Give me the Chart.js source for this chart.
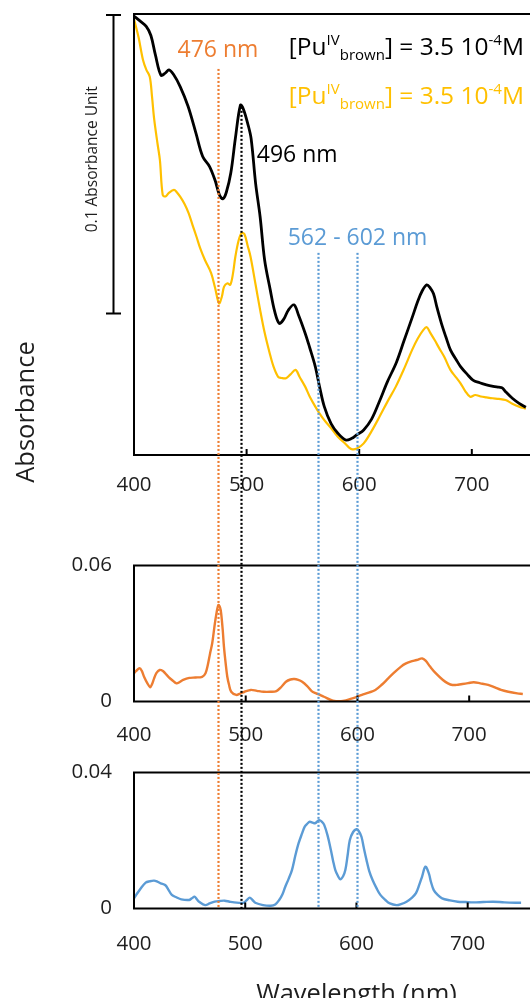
<!DOCTYPE html>
<html>
<head>
<meta charset="utf-8">
<script src="https://cdn.jsdelivr.net/npm/chart.js@4.4.1/dist/chart.umd.min.js"></script>
<style>
html,body{margin:0;padding:0;background:#fff;overflow:hidden;}
body{width:530px;height:998px;position:relative;}
canvas{position:absolute;left:0;}
</style>
</head>
<body>
<canvas id="cA" width="620" height="510" style="top:0;width:620px;height:510px"></canvas>
<canvas id="cB" width="620" height="250" style="top:510px;width:620px;height:250px"></canvas>
<canvas id="cC" width="620" height="254" style="top:760px;width:620px;height:254px"></canvas>
<canvas id="ov" width="620" height="1014" style="top:0;width:620px;height:1014px;pointer-events:none"></canvas>
<script>
// ---------- DATA ----------
const xTicks = [400, 500, 600, 700, 800];

// Top panel: black spectrum
const wlBlack = [400,405,411,415,419,424,428,431,435,441,448,455,461,467,472,476,479,482,486,490,494.5,497,501,504,508,512,516,521,525,529,533,537,542,546,552,556,561,565,569,575,581,588,593,598,604,611,618,625,633,640,647,652,656,660,663,666,669,673,677,681,686,690,696,701,707,713,719,724,727,730,736,742,748];
const absBlack = [0.1470,0.1455,0.1435,0.1405,0.1340,0.1272,0.1280,0.1290,0.1275,0.1234,0.1168,0.1078,0.1000,0.0967,0.0920,0.0870,0.0858,0.0880,0.0945,0.1060,0.1172,0.1160,0.1110,0.1060,0.0910,0.0798,0.0653,0.0553,0.0480,0.0441,0.0455,0.0485,0.0503,0.0470,0.0408,0.0360,0.0296,0.0225,0.0162,0.0105,0.0073,0.0050,0.0055,0.0068,0.0084,0.0120,0.0180,0.0245,0.0310,0.0385,0.0460,0.0515,0.0550,0.0570,0.0560,0.0540,0.0495,0.0441,0.0395,0.0352,0.0320,0.0296,0.0270,0.0251,0.0242,0.0235,0.0230,0.0227,0.0225,0.0212,0.0190,0.0173,0.0160];

// Top panel: gold spectrum
const wlGold = [400,404,408,411,414,416,418,421,423,425.5,428,431,435.5,438,441,445,448.5,452,455.5,459,463,468.5,472,475.5,478,480,483,485.5,488,490,493,495.5,498,501,503.5,508,512,516,520.5,524,528,531,535,539,543.5,547,552,556,561,565,569,575,581,587,591,594,598,604,611,618,625,632.5,640,647,652,657,660,663,667,671,675.5,681,686,690,694,698.5,703,708,713,718.5,724,730,736,742,748];
const absGold = [0.1460,0.1400,0.1323,0.1290,0.1267,0.1200,0.1122,0.1040,0.0988,0.0871,0.0866,0.0878,0.0888,0.0880,0.0865,0.0840,0.0810,0.0770,0.0731,0.0690,0.0653,0.0609,0.0560,0.0508,0.0530,0.0564,0.0575,0.0570,0.0610,0.0664,0.0720,0.0743,0.0740,0.0700,0.0664,0.0570,0.0486,0.0410,0.0341,0.0295,0.0262,0.0258,0.0257,0.0270,0.0285,0.0262,0.0229,0.0196,0.0162,0.0138,0.0117,0.0090,0.0061,0.0040,0.0025,0.0019,0.0022,0.0039,0.0080,0.0128,0.0178,0.0229,0.0290,0.0352,0.0390,0.0419,0.0428,0.0410,0.0385,0.0358,0.0329,0.0285,0.0260,0.0240,0.0215,0.0195,0.0201,0.0196,0.0193,0.0190,0.0188,0.0184,0.0172,0.0162,0.0155];

// Middle panel: orange spectrum
const wlOrange = [400,402,405,407,409,412,414.5,416,418,420,423,426,428,431,434,438,441,444,449.5,455,461,464,466,468,470,472,473.5,475.5,477,478,479.5,480.5,482,483.5,485,487,491.5,495,499,504.5,510,516,522,527.5,532,536,540,543.5,547,550.5,555,559,563,566.5,570,578,587,595.5,604,610,616,622,627.5,633,639,643,647.5,653,658,661,665,670,676.5,681,685,690,694,699,704,710,717,723,728.5,735,743,748];
const valOrange = [0.0125,0.0135,0.0147,0.0135,0.0109,0.0080,0.0063,0.0075,0.0102,0.0125,0.0139,0.0134,0.0124,0.0108,0.0095,0.0080,0.0086,0.0095,0.0104,0.0106,0.0109,0.0125,0.0160,0.0210,0.0257,0.0330,0.0380,0.0426,0.0415,0.0389,0.0310,0.0242,0.0170,0.0109,0.0075,0.0043,0.0029,0.0035,0.0043,0.0051,0.0047,0.0043,0.0043,0.0046,0.0065,0.0087,0.0097,0.0099,0.0095,0.0087,0.0068,0.0046,0.0036,0.0029,0.0021,0.0004,0.0002,0.0014,0.0029,0.0039,0.0051,0.0075,0.0102,0.0128,0.0154,0.0167,0.0176,0.0183,0.0190,0.0180,0.0154,0.0125,0.0095,0.0080,0.0073,0.0074,0.0077,0.0081,0.0085,0.0080,0.0073,0.0062,0.0051,0.0043,0.0036,0.0033];

// Bottom panel: blue spectrum
const wlBlue = [400,402,406,410.5,414,418,421,424,428,431,434,438,442.5,449.5,452,454.5,456.5,458.5,464,468,472.5,477,481.5,486,490,498.5,501.5,504,506.5,509,516,523,527,530.5,533.5,536,539,542,545,548,551,553.5,556,558,561,563,566.5,569,571,574,577,579,581,583.5,585.5,588,590,592,594,597,600,602,604.5,606.5,609,611.5,614.5,618,621.5,626,630,636,640,645,650,653.5,656.5,659,662,665,667,669.5,673,677,684,691,698,705,714,723,733,743,748];
const valBlue = [0.0030,0.0040,0.0059,0.0076,0.0080,0.0082,0.0079,0.0074,0.0069,0.0055,0.0040,0.0033,0.0027,0.0025,0.0030,0.0035,0.0027,0.0020,0.0010,0.0015,0.0020,0.0022,0.0023,0.0020,0.0018,0.0017,0.0025,0.0032,0.0025,0.0017,0.0010,0.0008,0.0012,0.0025,0.0042,0.0064,0.0087,0.0113,0.0155,0.0192,0.0220,0.0241,0.0250,0.0255,0.0252,0.0251,0.0260,0.0255,0.0246,0.0215,0.0172,0.0140,0.0113,0.0095,0.0086,0.0095,0.0113,0.0155,0.0201,0.0225,0.0233,0.0228,0.0211,0.0180,0.0143,0.0110,0.0084,0.0060,0.0040,0.0025,0.0015,0.0010,0.0013,0.0020,0.0032,0.0045,0.0070,0.0094,0.0123,0.0104,0.0078,0.0054,0.0040,0.0030,0.0024,0.0020,0.0019,0.0018,0.0019,0.0020,0.0018,0.0017,0.0017];

// Marker lines (wavelength, start height on the top panel's absorbance scale)
const markerWavelengths = [474.5, 494.8, 563.6, 598];
const markerStartAbs = [0.1293, 0.1166, 0.0677, 0.0677];
const scaleBarAbs = 0.1; // 0.1 absorbance unit bar

// ---------- STYLE ----------
const F = '"Open Sans", "DejaVu Sans", sans-serif';
const INK = '#1e1e1e';
const C_BLACK = '#000000', C_GOLD = '#FFC000', C_ORANGE = '#ED7D31', C_BLUE = '#5B9BD5';
const markerColors = [C_ORANGE, '#000000', C_BLUE, C_BLUE];

function pts(xs, ys){ return xs.map((x,i)=>({x:x, y:ys[i]})); }

function xAxis(pad, height, withTitle){
  return {
    type:'linear', min:400, max:800,
    afterBuildTicks: s => { s.ticks = xTicks.map(v=>({value:v})); },
    ticks:{color:INK, font:{family:F, size:20.5}, padding:pad, maxRotation:0, autoSkip:false, callback:v=>String(v)},
    grid:{display:false, drawTicks:false},
    border:{display:false},
    title: withTitle ? {display:true, text:'Wavelength (nm)', color:INK, font:{family:F, size:25.5}, padding:{top:4,bottom:4}} : {display:false},
    afterFit: s => { s.height = height; }
  };
}
function yAxis(max, showTicks){
  return {
    type:'linear', min:0, max:max,
    afterBuildTicks: s => { s.ticks = [{value:0},{value:max}]; },
    ticks:{display:showTicks, color:INK, font:{family:F, size:20.5}, padding:22, callback: v => (v===0 ? '0' : String(v))},
    grid:{display:false, drawTicks:false},
    border:{display:false},
    afterFit: s => { s.width = 134; s.paddingTop = 0; s.paddingBottom = 0; }
  };
}

const framePlugin = {
  id:'frame',
  afterDatasetsDraw(chart){
    const {ctx, chartArea:a, scales:{x}} = chart;
    ctx.save();
    ctx.strokeStyle = '#000'; ctx.lineWidth = 2;
    ctx.strokeRect(a.left, a.top, a.right-a.left, a.bottom-a.top);
    ctx.beginPath();
    xTicks.forEach(v => { if (v === xTicks[0]) return; const px = x.getPixelForValue(v); ctx.moveTo(px, a.bottom); ctx.lineTo(px, a.bottom-6); });
    ctx.stroke();
    ctx.restore();
  }
};

function drawRich(ctx, x, y, color, parts){
  ctx.fillStyle = color; ctx.textAlign = 'left'; ctx.textBaseline = 'alphabetic';
  parts.forEach(p => {
    ctx.font = p.s + 'px ' + F;
    ctx.fillText(p.t, x, y + p.dy);
    x += ctx.measureText(p.t).width;
  });
}

const annotPlugin = {
  id:'annot',
  afterDraw(chart){
    const {ctx, chartArea:a, scales:{x,y}} = chart;
    ctx.save();
    // scale bar
    const bx = a.left - 20.5;
    const yTop = y.getPixelForValue(y.max - 0.0003), yBot = y.getPixelForValue(y.max - 0.0003 - scaleBarAbs);
    ctx.strokeStyle = '#000'; ctx.lineWidth = 2;
    ctx.beginPath();
    ctx.moveTo(bx, yTop); ctx.lineTo(bx, yBot);
    ctx.moveTo(bx-7.5, yTop); ctx.lineTo(bx+7.5, yTop);
    ctx.moveTo(bx-7.5, yBot); ctx.lineTo(bx+7.5, yBot);
    ctx.stroke();
    // rotated labels
    ctx.fillStyle = INK; ctx.textAlign = 'center'; ctx.textBaseline = 'middle';
    ctx.save();
    ctx.translate(a.left - 41, (yTop + yBot)/2 - 5);
    ctx.rotate(-Math.PI/2);
    ctx.font = '15.5px ' + F;
    ctx.fillText('0.1 Absorbance Unit', 0, 0);
    ctx.restore();
    ctx.save();
    ctx.translate(a.left - 107, a.bottom - 43);
    ctx.rotate(-Math.PI/2);
    ctx.font = '25.5px ' + F;
    ctx.fillText('Absorbance', 0, 0);
    ctx.restore();
    // wavelength annotations
    ctx.textBaseline = 'alphabetic';
    ctx.font = '23px ' + F;
    ctx.textAlign = 'center';
    ctx.fillStyle = C_ORANGE;
    ctx.fillText('476 nm', x.getPixelForValue(474.5), y.getPixelForValue(0.1333));
    ctx.fillStyle = C_BLUE;
    ctx.fillText('562 - 602 nm', x.getPixelForValue(598.5), y.getPixelForValue(0.0704));
    ctx.textAlign = 'left';
    ctx.fillStyle = '#000';
    ctx.fillText('496 nm', x.getPixelForValue(509), y.getPixelForValue(0.0982));
    const parts = [
      {t:'[Pu', s:24.5, dy:0}, {t:'IV', s:15, dy:-9.5}, {t:'brown', s:15, dy:5},
      {t:'] = 3.5 10', s:24.5, dy:0}, {t:'-4', s:15, dy:-9.5}, {t:'M', s:24.5, dy:0}
    ];
    drawRich(ctx, x.getPixelForValue(537.5), y.getPixelForValue(0.1340), '#000', parts);
    drawRich(ctx, x.getPixelForValue(537.5), y.getPixelForValue(0.1176), C_GOLD, parts);
    ctx.restore();
  }
};

function lineDs(data, color, width, order){
  return {data:data, borderColor:color, borderWidth:width, pointRadius:0, tension:0.35, fill:false, showLine:true, order:order};
}

Chart.defaults.font.family = F;

const chartA = new Chart(document.getElementById('cA'), {
  type:'scatter',
  data:{datasets:[
    lineDs(pts(wlBlack, absBlack), C_BLACK, 2.8, 0),
    lineDs(pts(wlGold, absGold), C_GOLD, 2.2, 1)
  ]},
  options:{
    responsive:false, animation:false,
    layout:{padding:{top:14, left:0, right:26, bottom:0}},
    plugins:{legend:{display:false}, tooltip:{enabled:false}},
    scales:{x:xAxis(18, 55, false), y:yAxis(0.1477, false)}
  },
  plugins:[framePlugin, annotPlugin]
});

const chartB = new Chart(document.getElementById('cB'), {
  type:'scatter',
  data:{datasets:[ lineDs(pts(wlOrange, valOrange), C_ORANGE, 2.4, 0) ]},
  options:{
    responsive:false, animation:false,
    layout:{padding:{top:55.5, left:0, right:26, bottom:0}},
    plugins:{legend:{display:false}, tooltip:{enabled:false}},
    scales:{x:xAxis(21.5, 58.5, false), y:yAxis(0.06, true)}
  },
  plugins:[framePlugin]
});

const chartC = new Chart(document.getElementById('cC'), {
  type:'scatter',
  data:{datasets:[ lineDs(pts(wlBlue, valBlue), C_BLUE, 2.4, 0) ]},
  options:{
    responsive:false, animation:false,
    layout:{padding:{top:12.5, left:0, right:26, bottom:0}},
    plugins:{legend:{display:false}, tooltip:{enabled:false}},
    scales:{x:xAxis(23.5, 105.5, true), y:yAxis(0.04, true)}
  },
  plugins:[framePlugin]
});

// Marker lines spanning the three panels, positioned with the charts' own scales
(function drawMarkers(){
  const ov = document.getElementById('ov');
  const ctx = ov.getContext('2d');
  const xs = chartA.scales.x, ys = chartA.scales.y;
  const cTop = chartC.canvas.offsetTop;
  const yEnd = cTop + chartC.chartArea.bottom;
  ctx.lineWidth = 2.2;
  ctx.setLineDash([2, 2]);
  markerWavelengths.forEach((wl, i) => {
    const px = Math.round(xs.getPixelForValue(wl)) + 0.5;
    const y0 = ys.getPixelForValue(markerStartAbs[i]);
    ctx.strokeStyle = markerColors[i];
    ctx.beginPath(); ctx.moveTo(px, y0); ctx.lineTo(px, yEnd); ctx.stroke();
  });
})();
</script>
</body>
</html>
